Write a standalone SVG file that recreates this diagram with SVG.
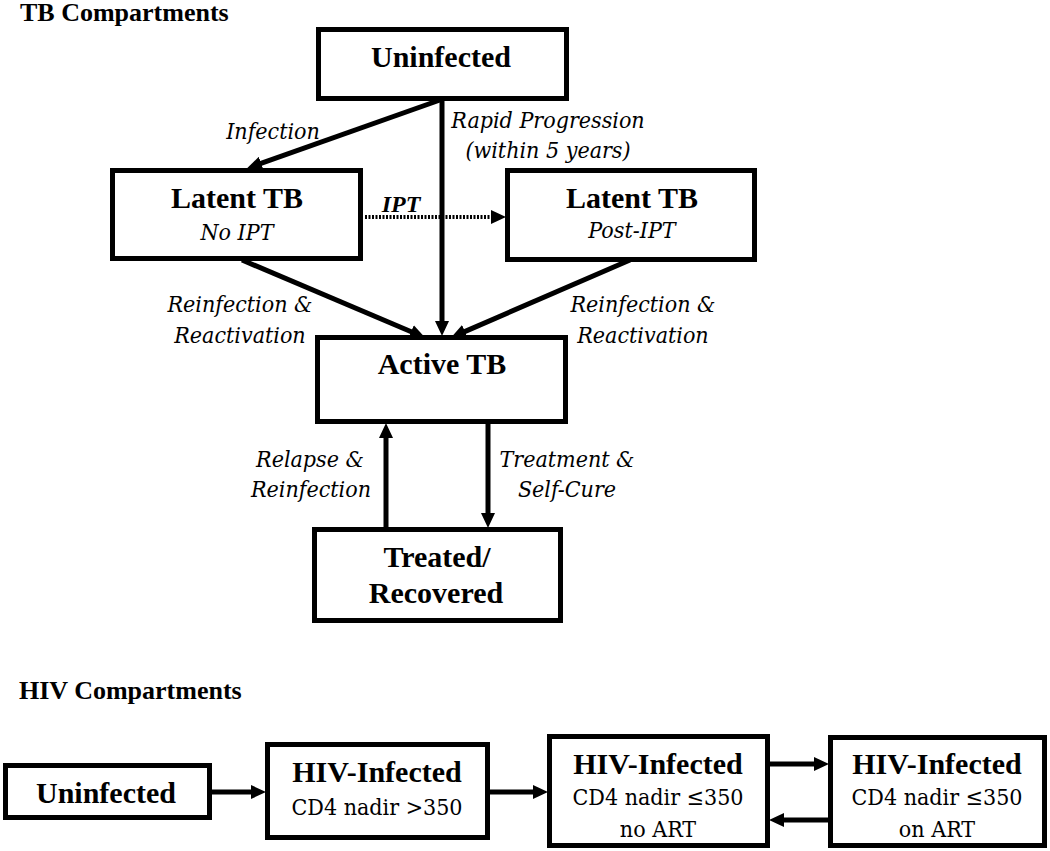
<svg xmlns="http://www.w3.org/2000/svg" width="1050" height="851" viewBox="0 0 1050 851">
<style>
.box{fill:#fff;stroke:#000;stroke-width:5}
.t{font-family:"Liberation Serif","DejaVu Serif",serif;fill:#000;text-anchor:middle}
.b30{font-weight:bold;font-size:30px}
.hd{font-weight:bold;font-size:26px;text-anchor:start}
.it{font-family:"DejaVu Serif",serif;font-stretch:condensed;font-style:italic;font-size:23px}
.rg{font-family:"DejaVu Serif",serif;font-stretch:condensed;font-size:23px}
.ln{fill:none;stroke:#000;stroke-width:5}
.dot{fill:none;stroke:#000;stroke-width:4;stroke-dasharray:2 1.5}
</style>
<defs>
<marker id="ah" markerUnits="userSpaceOnUse" markerWidth="16" markerHeight="14" viewBox="0 0 16 14" refX="4" refY="7" orient="auto">
<path d="M0,0 L15,7 L0,14 z" fill="#000"/>
</marker>
</defs>
<rect width="1050" height="851" fill="#fff"/>
<text class="t hd" x="20" y="21">TB Compartments</text>
<text class="t hd" x="19" y="699">HIV Compartments</text>

<g id="connectors">
<path class="ln" d="M440,100 L257.4,164.7" marker-end="url(#ah)"/>
<path class="ln" d="M442,99 L442,325" marker-end="url(#ah)"/>
<path class="dot" d="M365,217 L495,217" marker-end="url(#ah)"/>
<path class="ln" d="M242,260 L414.8,333.2" marker-end="url(#ah)"/>
<path class="ln" d="M630,260 L461.2,333.1" marker-end="url(#ah)"/>
<path class="ln" d="M386,527 L386,434" marker-end="url(#ah)"/>
<path class="ln" d="M488,422 L488,517" marker-end="url(#ah)"/>
<path class="ln" d="M210,792 L255,792" marker-end="url(#ah)"/>
<path class="ln" d="M488,792 L537,792" marker-end="url(#ah)"/>
<path class="ln" d="M768,764 L818,764" marker-end="url(#ah)"/>
<path class="ln" d="M830,820 L780,820" marker-end="url(#ah)"/>
<text class="t it" x="273" y="139">Infection</text>
<text class="t it" x="548" y="128">Rapid Progression</text>
<text class="t it" x="548" y="158">(within 5 years)</text>
<text class="t" x="401" y="212" style="font-style:italic;font-weight:bold;font-size:24px">IPT</text>
<text class="t it" x="240" y="312">Reinfection &amp;</text>
<text class="t it" x="240" y="343">Reactivation</text>
<text class="t it" x="643" y="312">Reinfection &amp;</text>
<text class="t it" x="643" y="343">Reactivation</text>
<text class="t it" x="310" y="467">Relapse &amp;</text>
<text class="t it" x="311" y="497">Reinfection</text>
<text class="t it" x="567" y="467">Treatment &amp;</text>
<text class="t it" x="567" y="497">Self-Cure</text>
</g>

<g id="tb-uninfected">
<rect class="box" x="318.5" y="29.5" width="248" height="69"/>
<text class="t b30" x="441" y="67">Uninfected</text>
</g>
<g id="latent-no-ipt">
<rect class="box" x="112.5" y="170.5" width="248" height="88"/>
<text class="t b30" x="237" y="208">Latent TB</text>
<text class="t it" x="237" y="240">No IPT</text>
</g>
<g id="latent-post-ipt">
<rect class="box" x="507.5" y="170.5" width="247" height="89"/>
<text class="t b30" x="632" y="208">Latent TB</text>
<text class="t it" x="632" y="238">Post-IPT</text>
</g>
<g id="active-tb">
<rect class="box" x="317.5" y="337.5" width="248" height="84"/>
<text class="t b30" x="442" y="374">Active TB</text>
</g>
<g id="treated">
<rect class="box" x="314.5" y="529.5" width="246" height="91"/>
<text class="t b30" x="437" y="567">Treated/</text>
<text class="t b30" x="436" y="603">Recovered</text>
</g>

<g id="hiv-uninfected">
<rect class="box" x="5.5" y="765.5" width="204" height="52"/>
<text class="t b30" x="106" y="803">Uninfected</text>
</g>
<g id="hiv-gt350">
<rect class="box" x="267.5" y="744.5" width="220" height="93"/>
<text class="t b30" x="377" y="782">HIV-Infected</text>
<text class="t rg" x="377" y="815">CD4 nadir &gt;350</text>
</g>
<g id="hiv-le350-noart">
<rect class="box" x="549.5" y="736.5" width="218" height="109"/>
<text class="t b30" x="658" y="774">HIV-Infected</text>
<text class="t rg" x="658" y="805">CD4 nadir ≤350</text>
<text class="t rg" x="658" y="837">no ART</text>
</g>
<g id="hiv-le350-art">
<rect class="box" x="830.5" y="737.5" width="214" height="108"/>
<text class="t b30" x="937" y="774">HIV-Infected</text>
<text class="t rg" x="937" y="805">CD4 nadir ≤350</text>
<text class="t rg" x="937" y="837">on ART</text>
</g>
</svg>
